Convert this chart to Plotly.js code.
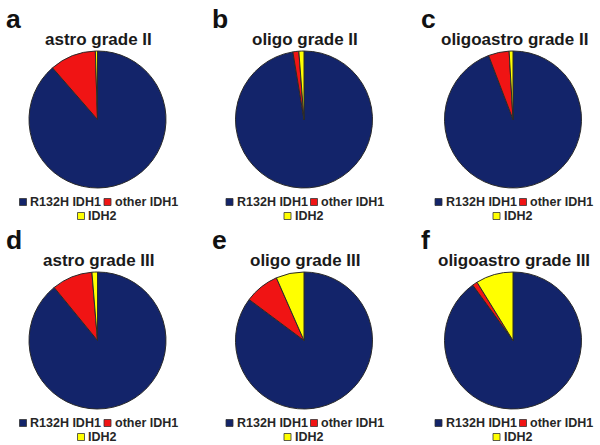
<!DOCTYPE html>
<html>
<head>
<meta charset="utf-8">
<script src="https://cdn.plot.ly/plotly-3.0.1.min.js"></script>
<style>
  html, body { margin: 0; padding: 0; background: #fff; }
  #chart { width: 600px; height: 445px; }
</style>
</head>
<body>
<div id="chart"></div>
<script>
// data (percent of cases per mutation type)
var panelLetters = ["a", "b", "c", "d", "e", "f"];
var panelTitles = ["astro grade II", "oligo grade II", "oligoastro grade II",
                   "astro grade III", "oligo grade III", "oligoastro grade III"];
var sliceLabels = ["R132H IDH1", "other IDH1", "IDH2"];
var r132h = [88.6, 97.4, 94.2, 89.1, 85.2, 90.0];
var otherIdh1 = [10.9, 1.4, 4.9, 9.6, 8.2, 1.2];
var idh2 = [0.5, 1.2, 0.9, 1.3, 6.6, 8.8];

var sliceColors = ["#13246a", "#f01414", "#ffff00"];

var W = 600, H = 445;
var colCenters = [97.5, 304, 513];
var rowCenters = [119.5, 340.5];
var R = 68.5;

var traces = [];
var annotations = [];
var shapes = [];

function px(x) { return x / W; }
function py(y) { return 1 - y / H; }

for (var i = 0; i < 6; i++) {
    var cx = colCenters[i % 3];
    var cy = rowCenters[Math.floor(i / 3)];

    traces.push({
        type: "pie",
        labels: sliceLabels,
        values: [r132h[i], otherIdh1[i], idh2[i]],
        sort: false,
        direction: "clockwise",
        rotation: 0,
        textinfo: "none",
        hoverinfo: "label+percent",
        showlegend: false,
        marker: {colors: sliceColors, line: {color: "#2a2a2a", width: 1}},
        domain: {x: [px(cx - R), px(cx + R)], y: [py(cy + R), py(cy - R)]}
    });

    // panel letter
    annotations.push({
        text: "<b>" + panelLetters[i] + "</b>",
        xref: "paper", yref: "paper",
        x: px(cx - 94), y: py(cy - 83.5),
        xanchor: "left", yanchor: "bottom",
        showarrow: false,
        font: {family: "Liberation Sans, Arial, sans-serif", size: 26.5, color: "#111"}
    });

    // panel title
    annotations.push({
        text: "<b>" + panelTitles[i] + "</b>",
        xref: "paper", yref: "paper",
        x: px(cx + 1), y: py(cy - 80),
        xanchor: "center", yanchor: "middle",
        showarrow: false,
        font: {family: "Liberation Sans, Arial, sans-serif", size: 17, color: "#1a1a1a"}
    });

    // legend: squares + labels
    var legendItems = [
        {dx: -78, dy: 82.5, label: sliceLabels[0], color: sliceColors[0]},
        {dx: 6.5, dy: 82.5, label: sliceLabels[1], color: sliceColors[1]},
        {dx: -20, dy: 96.5, label: sliceLabels[2], color: sliceColors[2]}
    ];
    legendItems.forEach(function (it) {
        var x0 = cx + it.dx, y0 = cy + it.dy;
        shapes.push({
            type: "rect", xref: "paper", yref: "paper",
            x0: px(x0), x1: px(x0 + 7), y0: py(y0 - 3.5), y1: py(y0 + 3.5),
            fillcolor: it.color,
            line: {color: "#333", width: 0.8}
        });
        annotations.push({
            text: "<b>" + it.label + "</b>",
            xref: "paper", yref: "paper",
            x: px(x0 + 8.5), y: py(y0),
            xanchor: "left", yanchor: "middle",
            showarrow: false,
            font: {family: "Liberation Sans, Arial, sans-serif", size: 12.5, color: "#262626"}
        });
    });
}

var layout = {
    width: W,
    height: H,
    margin: {l: 0, r: 0, t: 0, b: 0},
    paper_bgcolor: "#ffffff",
    showlegend: false,
    annotations: annotations,
    shapes: shapes
};

Plotly.newPlot("chart", traces, layout, {displayModeBar: false, staticPlot: true});
</script>
</body>
</html>
